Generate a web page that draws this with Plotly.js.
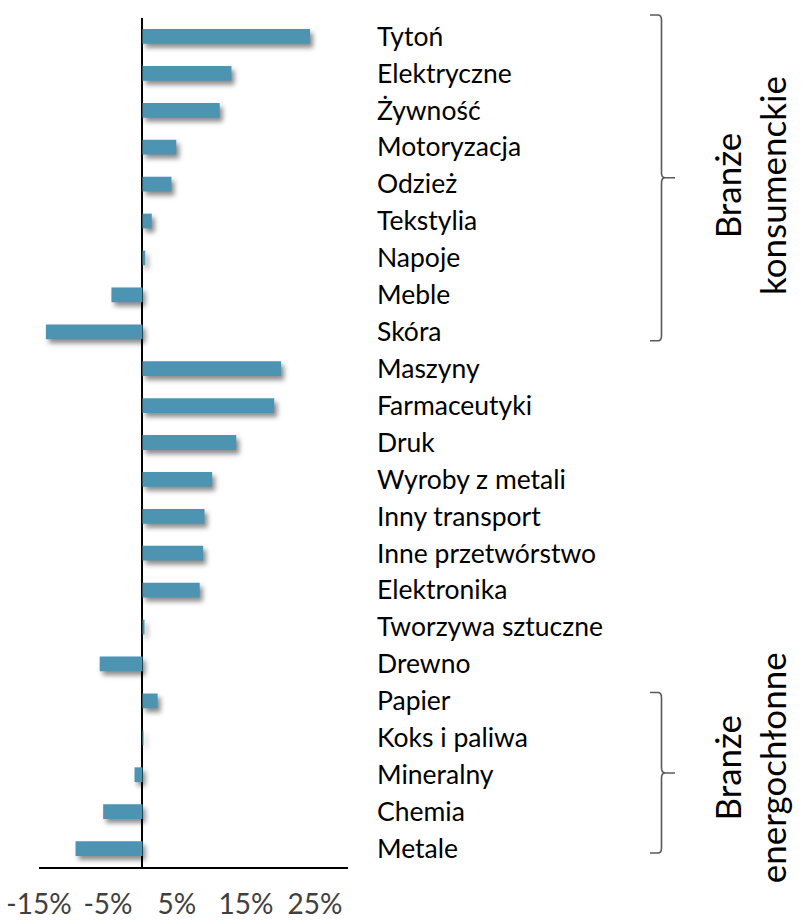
<!DOCTYPE html>
<html>
<head>
<meta charset="utf-8">
<script src="https://cdn.plot.ly/plotly-3.0.1.min.js"></script>
<style>
  html, body { margin: 0; padding: 0; background: #fff; }
  #chart { width: 805px; height: 921px; }
  .barlayer { filter: drop-shadow(3px 4px 2.5px rgba(0,0,0,0.45)); }
</style>
</head>
<body>
<div id="chart"></div>
<script>
const categories = [
  "Tytoń", "Elektryczne", "Żywność", "Motoryzacja", "Odzież", "Tekstylia",
  "Napoje", "Meble", "Skóra", "Maszyny", "Farmaceutyki", "Druk",
  "Wyroby z metali", "Inny transport", "Inne przetwórstwo", "Elektronika",
  "Tworzywa sztuczne", "Drewno", "Papier", "Koks i paliwa", "Mineralny",
  "Chemia", "Metale"
];
const values = [
  24.3, 12.9, 11.2, 4.9, 4.2, 1.35,
  0.4, -4.5, -14.0, 20.1, 19.1, 13.6,
  10.1, 9.0, 8.8, 8.3,
  0.3, -6.2, 2.2, 0.15, -1.15,
  -5.7, -9.7
];
const tickValues = [-15, -5, 5, 15, 25];
const tickLabels = ["-15%", "-5%", "5%", "15%", "25%"];
const groupLabels = ["Branże<br>konsumenckie", "Branże<br>energochłonne"];

// plot area in pixels
const L = 39, R = 348, T = 18, B = 866.7, W = 805, H = 921;
const px = x => (x - L) / (R - L);
const py = y => (B - y) / (B - T);

function brace(x0, x1, xm, y0, ym, y1) {
  const r = 0.006;
  return `M ${px(x0)} ${py(y0)} L ${px(x1) - 0.012} ${py(y0)} Q ${px(x1)} ${py(y0)} ${px(x1)} ${py(y0) - r} ` +
         `L ${px(x1)} ${py(ym) + r} Q ${px(x1)} ${py(ym)} ${px(x1) + 0.012} ${py(ym)} L ${px(xm)} ${py(ym)} ` +
         `M ${px(x1) + 0.012} ${py(ym)} Q ${px(x1)} ${py(ym)} ${px(x1)} ${py(ym) - r} ` +
         `L ${px(x1)} ${py(y1) + r} Q ${px(x1)} ${py(y1)} ${px(x1) - 0.012} ${py(y1)} L ${px(x0)} ${py(y1)}`;
}

const trace = {
  type: "bar",
  orientation: "h",
  x: values,
  y: categories,
  marker: { color: "#4d94b3" },
  width: 0.4,
  hoverinfo: "skip"
};

const layout = {
  width: W, height: H,
  margin: { l: L, r: W - R, t: T, b: H - B, pad: 0 },
  paper_bgcolor: "#fff", plot_bgcolor: "#fff",
  showlegend: false,
  font: { family: "Lato, 'Open Sans', sans-serif", color: "#000" },
  xaxis: {
    range: [-15, 29.8],
    tickvals: tickValues,
    ticktext: tickLabels,
    showgrid: false,
    zeroline: true, zerolinecolor: "#000", zerolinewidth: 2,
    showline: true, linecolor: "#000", linewidth: 2,
    ticks: "",
    ticklabelstandoff: 11,
    tickfont: { size: 28, color: "#404040" },
    fixedrange: true
  },
  yaxis: {
    type: "category",
    autorange: "reversed",
    side: "right",
    showgrid: false, zeroline: false, showline: false,
    ticks: "",
    ticklabelstandoff: 28,
    tickfont: { size: 26.5, color: "#000" },
    fixedrange: true
  },
  shapes: [
    { type: "path", xref: "paper", yref: "paper", path: brace(650, 661.5, 675, 15, 177.7, 340.7),
      line: { color: "#595959", width: 1.6 } },
    { type: "path", xref: "paper", yref: "paper", path: brace(650, 661.5, 675, 692.3, 772.7, 852.7),
      line: { color: "#595959", width: 1.6 } }
  ],
  annotations: [
    { text: groupLabels[0], xref: "paper", yref: "paper", x: px(750), y: py(186),
      xanchor: "center", yanchor: "middle", textangle: -90, showarrow: false,
      font: { size: 35, color: "#000" } },
    { text: groupLabels[1], xref: "paper", yref: "paper", x: px(750), y: py(768),
      xanchor: "center", yanchor: "middle", textangle: -90, showarrow: false,
      font: { size: 35, color: "#000" } }
  ]
};

Plotly.newPlot("chart", [trace], layout, { displayModeBar: false, staticPlot: true });
</script>
</body>
</html>
